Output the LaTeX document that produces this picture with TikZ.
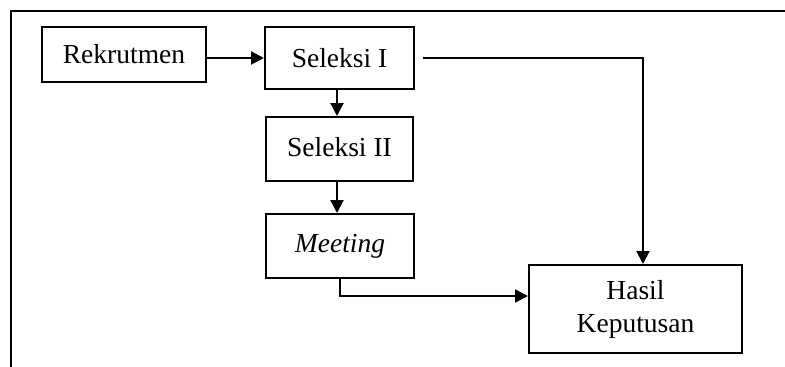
\documentclass[tikz,border=0pt]{standalone}
\usepackage{fontspec}
\setmainfont{Liberation Serif}
\usetikzlibrary{arrows.meta}
\begin{document}
\begin{tikzpicture}[x=1pt,y=-1pt,
  box/.style={draw,line width=2pt,inner sep=0pt,align=center,
    font=\fontsize{27.5}{33}\selectfont},
  arr/.style={line width=2pt,-{Triangle[length=13pt,width=13pt]}},
  frame/.style={line width=2pt}]
\useasboundingbox (0,0) rectangle (785,367);
\draw[frame] (11,367) -- (11,11) -- (785,11);
\node[box,minimum width=164pt,minimum height=55pt] (r) at (124,54.5) {\raisebox{1.5pt}{Rekrutmen}};
\node[box,minimum width=149pt,minimum height=62pt] (s1) at (339.5,58) {Seleksi I};
\node[box,minimum width=147pt,minimum height=64pt] (s2) at (339.5,149) {\raisebox{4pt}{Seleksi II}};
\node[box,minimum width=148pt,minimum height=64pt] (m) at (340,246) {\raisebox{4pt}{\textit{Meeting}}};
\node[box,minimum width=213pt,minimum height=88pt] (h) at (635.5,309) {Hasil\\Keputusan};
\draw[arr] (r.east |- s1.west) -- (s1.west);
\draw[arr] ([xshift=-2.5pt]s1.south) -- ([xshift=-2.5pt]s2.north);
\draw[arr] ([xshift=-2.5pt]s2.south) -- ([xshift=-3pt]m.north);
\draw[arr] (m.south) |- ([yshift=13pt]h.west);
\draw[arr] ([xshift=8pt]s1.east) -| ([xshift=7.5pt]h.north);
\end{tikzpicture}
\end{document}
